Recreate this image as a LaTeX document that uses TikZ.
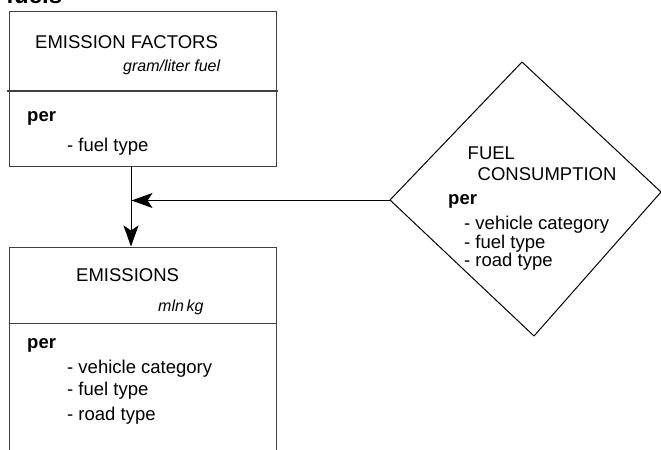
\documentclass[tikz,border=0pt]{standalone}
\usepackage{fontspec}
\setmainfont{Liberation Sans}
\usetikzlibrary{arrows.meta}
\tikzset{
  boxline/.style={draw=black!75, line width=1.3bp},
  conn/.style={draw=black, line width=1bp},
  tip/.style={-{Stealth[length=21bp,width=15bp,inset=5bp]}},
  txt/.style={anchor=base west, inner sep=0pt, font=\fontsize{18.5bp}{22bp}\selectfont},
  itxt/.style={anchor=base west, inner sep=0pt, font=\fontsize{16bp}{19bp}\selectfont\itshape},
  btxt/.style={anchor=base west, inner sep=0pt, font=\fontsize{18.5bp}{22bp}\selectfont\bfseries},
}
\begin{document}
\begin{tikzpicture}[x=1bp,y=-1bp]
\useasboundingbox (0,0) rectangle (661,450);
% heading, cut off at top
\node[anchor=base west, inner sep=0pt, font=\fontsize{24bp}{28bp}\selectfont\bfseries] (head) at (6,4) {fuels};

% box 1: emission factors
\node[boxline, rectangle, minimum width=267bp, minimum height=155bp, inner sep=0pt, anchor=north west] (ef) at (9,11) {};
\draw[boxline] (7,91) -- (278,91);
\node[txt] (eft) at (35,48.5) {EMISSION FACTORS};
\node[itxt] (efu) at (123,72) {gram/liter fuel};
\node[btxt] (efp) at (27,121.5) {per};
\node[txt] (ef1) at (67,152) {- fuel type};

% box 2: emissions (open at bottom)
\node[boxline, rectangle, minimum width=267bp, minimum height=230bp, inner sep=0pt, anchor=north west] (em) at (9,247) {};
\draw[boxline] (9,323.5) -- (276,323.5);
\node[txt] (emt) at (76,281.5) {EMISSIONS};
\node[itxt] (emu) at (158,311.5) {mln\,kg};
\node[btxt] (emp) at (27,348) {per};
\node[txt] (em1) at (67,373.5) {- vehicle category};
\node[txt] (em2) at (67,395.5) {- fuel type};
\node[txt] (em3) at (67,420) {- road type};

% diamond: fuel consumption
\coordinate (fcl) at (390,200);
\coordinate (fct) at (522,62);
\coordinate (fcr) at (661,192);
\coordinate (fcb) at (534,336);
\draw[conn] (fcl) -- (fct) -- (fcr) -- (fcb) -- cycle;
\node[txt] (fct1) at (467.5,159.5) {FUEL};
\node[txt] (fct2) at (477.5,181) {CONSUMPTION};
\node[btxt] (fcp) at (448,205) {per};
\node[txt] (fc1) at (464,230) {- vehicle category};
\node[txt] (fc2) at (464,248.5) {- fuel type};
\node[txt] (fc3) at (464,267) {- road type};

% connectors
\coordinate (efb) at (131,166);
\coordinate (emtop) at (131,246.5);
\coordinate (join) at (131.5,200.5);
\draw[conn, tip] (efb) -- (emtop);
\draw[conn, tip] (fcl |- join) -- (join);
\end{tikzpicture}
\end{document}
